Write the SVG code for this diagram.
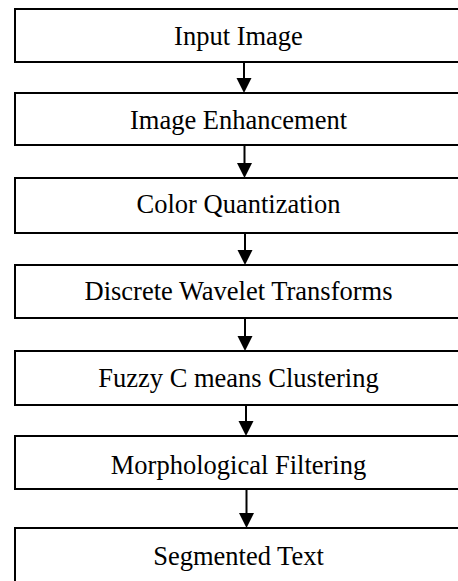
<svg xmlns="http://www.w3.org/2000/svg" width="458" height="581" viewBox="0 0 458 581">
<defs>
<style>
.box{fill:#fff;stroke:#000;stroke-width:2}
.lbl{font-family:"Liberation Serif","Times New Roman",serif;font-size:26.5px;fill:#000;text-anchor:middle}
.con{stroke:#000;stroke-width:2;fill:none}
.head{fill:#000}
</style>
</defs>
<rect width="458" height="581" fill="#fff"/>
<g id="n1"><rect class="box" x="15" y="9" width="448" height="53"/><text class="lbl" x="238.5" y="45">Input Image</text></g>
<g id="n2"><rect class="box" x="15" y="93" width="448" height="52"/><text class="lbl" x="238.5" y="129">Image Enhancement</text></g>
<g id="n3"><rect class="box" x="15" y="178" width="448" height="55"/><text class="lbl" x="238.5" y="213">Color Quantization</text></g>
<g id="n4"><rect class="box" x="15" y="265" width="448" height="53"/><text class="lbl" x="238.5" y="300">Discrete Wavelet Transforms</text></g>
<g id="n5"><rect class="box" x="15" y="351" width="448" height="54"/><text class="lbl" x="238.5" y="387">Fuzzy C means Clustering</text></g>
<g id="n6"><rect class="box" x="15" y="436" width="448" height="53"/><text class="lbl" x="238.5" y="474">Morphological Filtering</text></g>
<g id="n7"><rect class="box" x="15" y="528" width="448" height="70"/><text class="lbl" x="238.5" y="565">Segmented Text</text></g>
<g id="connectors">
<line class="con" x1="244" y1="62" x2="244" y2="80"/><polygon class="head" points="236.5,78 251.5,78 244,93"/>
<line class="con" x1="244.5" y1="145" x2="244.5" y2="165"/><polygon class="head" points="237,163 252,163 244.5,178"/>
<line class="con" x1="245" y1="233" x2="245" y2="252"/><polygon class="head" points="237.5,250 252.5,250 245,265"/>
<line class="con" x1="245" y1="318" x2="245" y2="338"/><polygon class="head" points="237.5,336 252.5,336 245,351"/>
<line class="con" x1="246" y1="405" x2="246" y2="423"/><polygon class="head" points="238.5,421 253.5,421 246,436"/>
<line class="con" x1="246.5" y1="489" x2="246.5" y2="515"/><polygon class="head" points="239,513 254,513 246.5,528"/>
</g>
</svg>
